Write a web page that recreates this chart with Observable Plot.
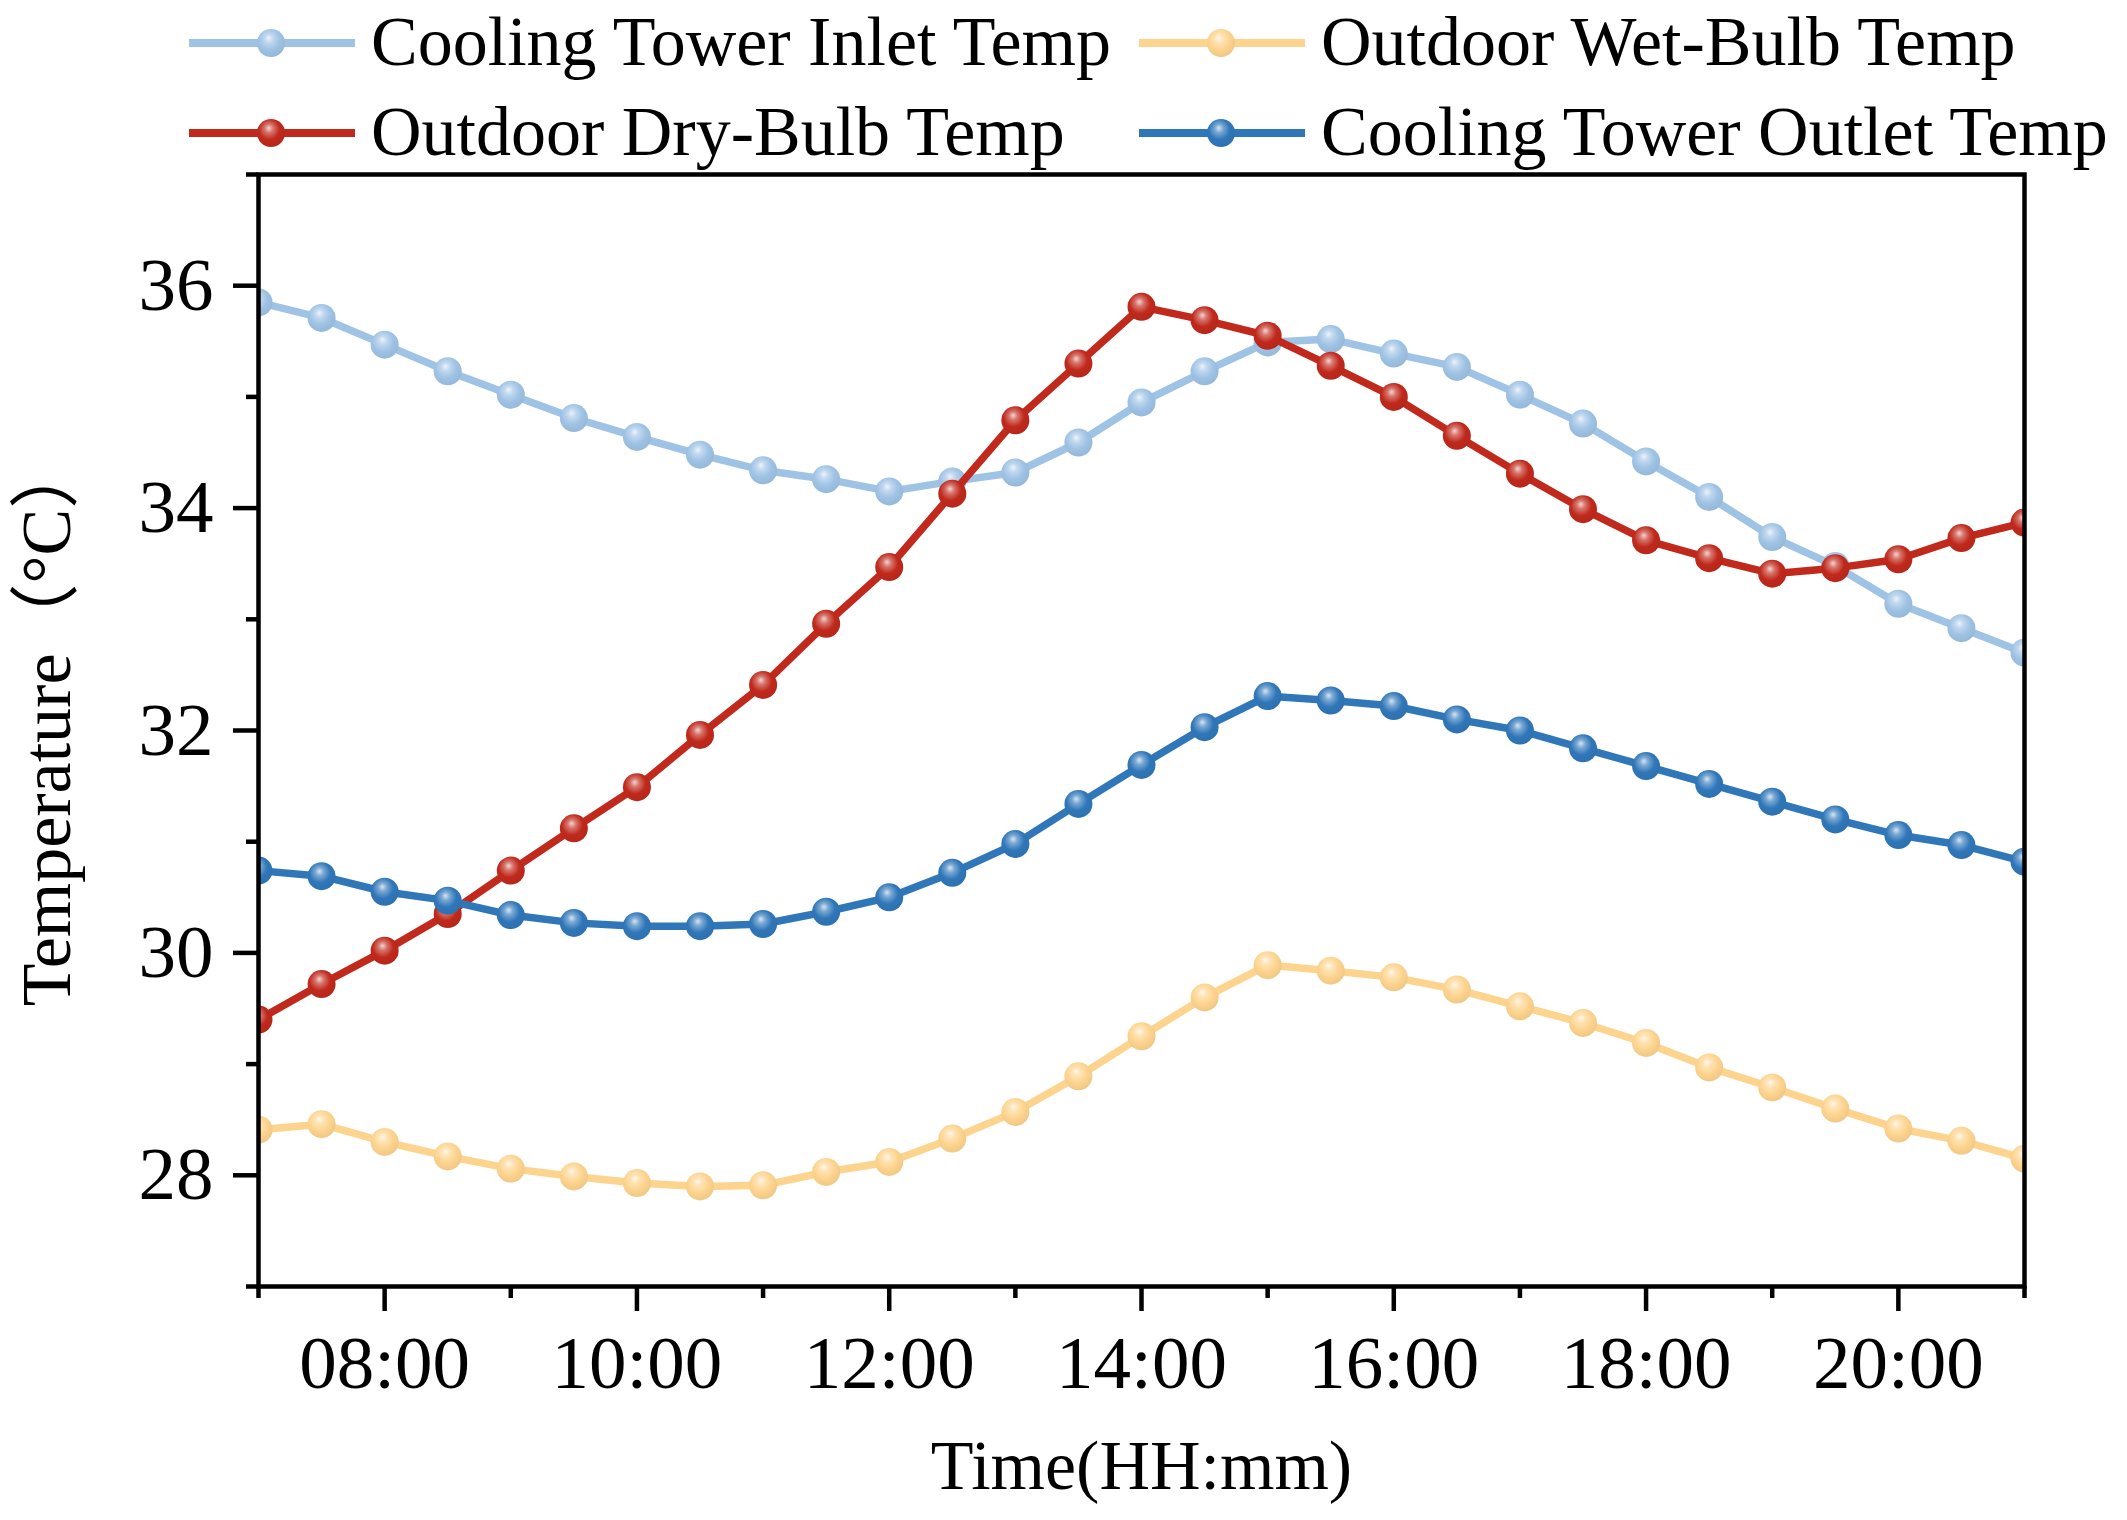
<!DOCTYPE html>
<html>
<head>
<meta charset="utf-8">
<script src="https://cdn.jsdelivr.net/npm/d3@7"></script>
<script src="https://cdn.jsdelivr.net/npm/@observablehq/plot@0.6"></script>
<style>
  html, body { margin: 0; padding: 0; background: #ffffff; }
  #wrap { width: 2127px; height: 1520px; background: #ffffff; }
  svg { display: block; }
</style>
</head>
<body>
<div id="wrap"></div>
<script>
// ---------------- data ----------------
const times = ["07:00","07:30","08:00","08:30","09:00","09:30","10:00","10:30","11:00","11:30",
               "12:00","12:30","13:00","13:30","14:00","14:30","15:00","15:30","16:00","16:30",
               "17:00","17:30","18:00","18:30","19:00","19:30","20:00","20:30","21:00"];

const inletTemp   = [35.85, 35.71, 35.47, 35.23, 35.02, 34.81, 34.64, 34.48, 34.34, 34.26,
                     34.15, 34.24, 34.32, 34.59, 34.95, 35.23, 35.49, 35.52, 35.39, 35.27,
                     35.02, 34.76, 34.42, 34.10, 33.74, 33.48, 33.14, 32.92, 32.70];
const wetBulbTemp = [28.41, 28.46, 28.30, 28.17, 28.06, 27.99, 27.93, 27.90, 27.91, 28.03,
                     28.12, 28.33, 28.57, 28.89, 29.25, 29.60, 29.89, 29.84, 29.78, 29.67,
                     29.52, 29.37, 29.19, 28.97, 28.79, 28.60, 28.42, 28.31, 28.15];
const dryBulbTemp = [29.40, 29.72, 30.02, 30.35, 30.74, 31.12, 31.49, 31.96, 32.41, 32.96,
                     33.47, 34.13, 34.79, 35.30, 35.81, 35.69, 35.55, 35.28, 35.00, 34.65,
                     34.31, 33.99, 33.71, 33.55, 33.41, 33.46, 33.54, 33.73, 33.87];
const outletTemp  = [30.74, 30.69, 30.55, 30.47, 30.34, 30.27, 30.24, 30.24, 30.26, 30.37,
                     30.50, 30.72, 30.98, 31.34, 31.69, 32.03, 32.31, 32.27, 32.22, 32.10,
                     32.00, 31.84, 31.68, 31.52, 31.36, 31.20, 31.06, 30.97, 30.82];

const seriesNames  = ["Cooling Tower Inlet Temp", "Outdoor Wet-Bulb Temp", "Outdoor Dry-Bulb Temp", "Cooling Tower Outlet Temp"];
const seriesValues = [inletTemp, wetBulbTemp, dryBulbTemp, outletTemp];
const seriesColors = ["#9fc3e5", "#fdd48e", "#c0291c", "#3077b9"];

const xTickLabels = ["08:00","10:00","12:00","14:00","16:00","18:00","20:00"];
const xMinorTicks = ["07:00","09:00","11:00","13:00","15:00","17:00","19:00","21:00"];
const yTicks = [28, 30, 32, 34, 36];
const yMinorTicks = [27, 29, 31, 33, 35, 37];
const xTitle = "Time(HH:mm)";
const yTitle = "Temperature（°C）";

// ---------------- helpers ----------------
const toHours = s => { const [h, m] = s.split(":").map(Number); return h + m / 60; };
const rows = seriesNames.flatMap((name, i) =>
  seriesValues[i].map((v, j) => ({series: name, t: toHours(times[j]), v})));

const serif = "'Liberation Serif', 'Times New Roman', 'Noto Sans CJK SC', serif";
const wrap = document.getElementById("wrap");

// ---------------- legend (with gradient defs) ----------------
const ns = "http://www.w3.org/2000/svg";
const legend = document.createElementNS(ns, "svg");
legend.setAttribute("width", 2127);
legend.setAttribute("height", 170);
legend.style.overflow = "visible";
const lighten = (c, k) => d3.interpolateRgb(c, "#ffffff")(k);
const darken = (c, k) => d3.interpolateRgb(c, "#000000")(k);
let defs = "<defs>";
seriesColors.forEach((c, i) => {
  defs += `<radialGradient id="ball${i}" cx="0.45" cy="0.4" r="0.62" fx="0.42" fy="0.32">
    <stop offset="0" stop-color="${lighten(c, 0.8)}"/>
    <stop offset="0.25" stop-color="${lighten(c, 0.35)}"/>
    <stop offset="0.6" stop-color="${c}"/>
    <stop offset="1" stop-color="${darken(c, 0.06)}"/>
  </radialGradient>`;
});
defs += "</defs>";
let items = "";
const colX = [189, 1139], rowY = [43, 133];
seriesNames.forEach((name, i) => {
  const x0 = colX[i % 2], y0 = rowY[Math.floor(i / 2)];
  items += `<line x1="${x0}" x2="${x0 + 166}" y1="${y0}" y2="${y0}" stroke="${seriesColors[i]}" stroke-width="8"/>`;
  items += `<circle cx="${x0 + 82}" cy="${y0}" r="14" fill="url(#ball${i})"/>`;
  items += `<text x="${x0 + 182}" y="${y0 + 22}" font-family="${serif.replace(/'/g, "&quot;")}" font-size="70" fill="#000">${name}</text>`;
});
legend.innerHTML = defs + items;
wrap.appendChild(legend);

// ---------------- plot ----------------
const marks = [];
seriesNames.forEach((name, i) => {
  const data = rows.filter(d => d.series === name);
  marks.push(Plot.line(data, {x: "t", y: "v", stroke: seriesColors[i], strokeWidth: 7.5, clip: true}));
  marks.push(Plot.dot(data, {x: "t", y: "v", r: 14, fill: `url(#ball${i})`, stroke: "none", clip: true}));
});

marks.push(
  Plot.axisX({ticks: xTickLabels.map(toHours), tickFormat: h => xTickLabels[xTickLabels.map(toHours).indexOf(h)],
              tickSize: 25, tickPadding: 23, strokeWidth: 4.5, fontSize: 75, label: null}),
  Plot.axisX({ticks: xMinorTicks.map(toHours), tickFormat: () => "", tickSize: 12, strokeWidth: 4.5, label: null}),
  Plot.axisY({ticks: yTicks, tickFormat: d => String(d), tickSize: 25, tickPadding: 20, strokeWidth: 4.5, fontSize: 75, label: null}),
  Plot.axisY({ticks: yMinorTicks, tickFormat: () => "", tickSize: 12, strokeWidth: 4.5, label: null}),
  Plot.frame({stroke: "#000", strokeWidth: 4.5}),
  Plot.text([xTitle], {frameAnchor: "bottom", dy: 202, lineAnchor: "bottom", fontSize: 70, fill: "#000"}),
  Plot.text([yTitle], {frameAnchor: "left", textAnchor: "middle", dx: -211, dy: -8, rotate: -90, fontSize: 70, fill: "#000"})
);

const chart = Plot.plot({
  width: 2127,
  height: 1350,
  marginTop: 4,
  marginBottom: 234,
  marginLeft: 258,
  marginRight: 103,
  style: {fontFamily: serif, fontSize: "75px", color: "#000", background: "#ffffff", overflow: "visible"},
  x: {domain: [7, 21]},
  y: {domain: [27, 37]},
  marks
});
wrap.appendChild(chart);
</script>
</body>
</html>
